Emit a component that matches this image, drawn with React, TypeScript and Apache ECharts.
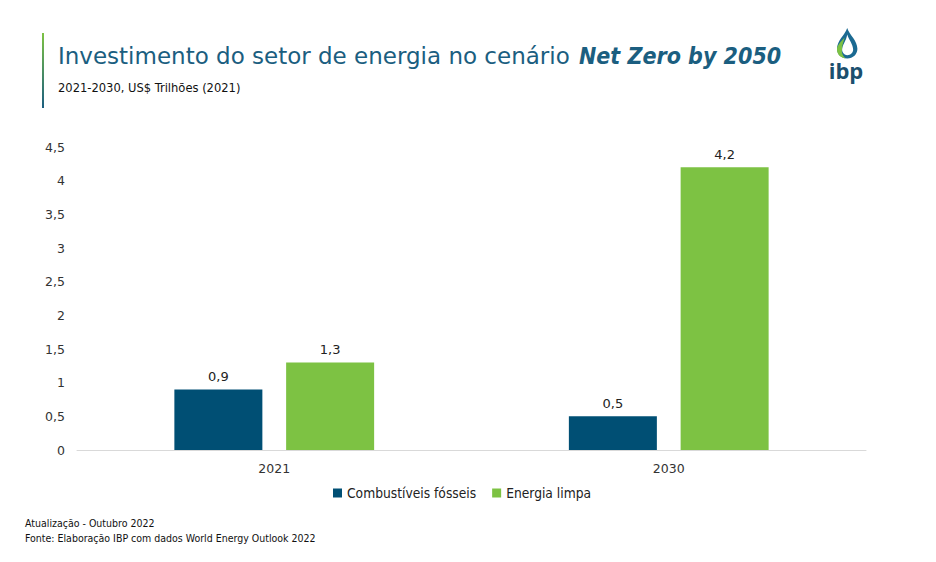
import React, { useEffect, useRef } from "react";
import * as echarts from "echarts";

const categories = ["2021", "2030"];
const fossil = [0.9, 0.5];
const clean = [1.3, 4.2];
const seriesNames = ["Combustíveis fósseis", "Energia limpa"];
const titleMain = "Investimento do setor de energia no cenário ";
const titleItalic = "Net Zero by 2050";
const subtitle = "2021-2030, US$ Trilhões (2021)";
const footer1 = "Atualização - Outubro 2022";
const footer2 = "Fonte: Elaboração IBP com dados World Energy Outlook 2022";

const FONT = "'DejaVu Sans', sans-serif";
const FONTC = "'DejaVu Sans Condensed', 'DejaVu Sans', sans-serif";
const fmt = (v: number) => String(v).replace(".", ",");

echarts.graphic.registerShape(
  "ibpDrop",
  echarts.graphic.extendPath(
    "M12 0 C15 9 24 16 24 26 C24 33 19 38 12 38 C5 38 0 33 0 26 C0 16 9 9 12 0 Z",
    {}
  )
);
echarts.graphic.registerShape(
  "ibpDropInner",
  echarts.graphic.extendPath(
    "M12 8 C14 15 19 20 19 27 C19 31 16 34 12 34 C9 34 6 31 6 27 C6 21 11 16 12 8 Z",
    {}
  )
);
echarts.graphic.registerShape(
  "ibpLeaf",
  echarts.graphic.extendPath(
    "M9 12 C4 18 0 22 0 27 C0 33 4 37 10 38 C6 34 5 30 6 26 C6 21 8 17 9 12 Z",
    {}
  )
);

export default function App() {
  const ref = useRef<HTMLDivElement>(null);
  useEffect(() => {
    if (!ref.current) return;
    const chart = echarts.init(ref.current, null, { renderer: "svg" });
    chart.setOption({
      animation: false,
      backgroundColor: "#ffffff",
      textStyle: { fontFamily: FONT },
      grid: { left: 77, right: 70, top: 147, bottom: 112, containLabel: false },
      legend: {
        data: seriesNames,
        bottom: 57,
        left: 328,
        icon: "rect",
        itemWidth: 9,
        itemHeight: 9,
        itemGap: 16,
        textStyle: { fontSize: 13.7, color: "#222", fontFamily: FONTC },
      },
      xAxis: {
        type: "category",
        data: categories,
        axisLine: { lineStyle: { color: "#d9d9d9" } },
        axisTick: { show: false },
        axisLabel: { fontSize: 12.5, color: "#333", margin: 12, fontFamily: FONT },
      },
      yAxis: {
        type: "value",
        min: 0,
        max: 4.5,
        interval: 0.5,
        splitLine: { show: false },
        axisLine: { show: false },
        axisTick: { show: false },
        axisLabel: {
          fontSize: 12.5,
          color: "#333",
          margin: 12,
          fontFamily: FONT,
          formatter: (v: number) => fmt(v),
        },
      },
      series: [
        {
          name: seriesNames[0],
          type: "bar",
          data: fossil,
          barWidth: 88,
          barGap: "27%",
          itemStyle: { color: "#004F74" },
          label: {
            show: true,
            position: "top",
            distance: 6,
            fontSize: 13,
            color: "#222",
            fontFamily: FONT,
            formatter: (p: any) => fmt(p.value),
          },
        },
        {
          name: seriesNames[1],
          type: "bar",
          data: clean,
          barWidth: 88,
          itemStyle: { color: "#7DC243" },
          label: {
            show: true,
            position: "top",
            distance: 6,
            fontSize: 13,
            color: "#222",
            fontFamily: FONT,
            formatter: (p: any) => fmt(p.value),
          },
        },
      ],
      graphic: [
        {
          type: "rect",
          shape: { x: 42, y: 33, width: 2, height: 75 },
          style: {
            fill: new echarts.graphic.LinearGradient(0, 0, 0, 1, [
              { offset: 0, color: "#7DC243" },
              { offset: 1, color: "#1B5E80" },
            ]),
          },
        },
        {
          type: "text",
          x: 58,
          y: 56,
          style: {
            text: titleMain,
            fontSize: 23,
            fill: "#1B5E80",
            fontFamily: FONT,
            textVerticalAlign: "middle",
          },
        },
        {
          type: "text",
          x: 579,
          y: 56,
          style: {
            text: titleItalic,
            fontSize: 23,
            fontStyle: "italic",
            fontWeight: "bold",
            fill: "#1B5E80",
            fontFamily: FONTC,
            textVerticalAlign: "middle",
          },
        },
        {
          type: "text",
          x: 58,
          y: 81,
          style: {
            text: subtitle,
            fontSize: 12.8,
            fill: "#111",
            fontFamily: FONTC,
          },
        },
        {
          type: "text",
          x: 25,
          y: 517,
          style: { text: footer1, fontSize: 10.5, fill: "#111", fontFamily: FONTC },
        },
        {
          type: "text",
          x: 25,
          y: 532,
          style: { text: footer2, fontSize: 10.5, fill: "#111", fontFamily: FONTC },
        },
        {
          type: "ibpDrop",
          x: 837,
          y: 28,
          scaleX: 0.85,
          scaleY: 0.8,
          style: { fill: "#1B6A92" },
        },
        {
          type: "ibpDropInner",
          x: 837,
          y: 28,
          scaleX: 0.85,
          scaleY: 0.8,
          style: { fill: "#ffffff" },
        },
        {
          type: "ibpLeaf",
          x: 837,
          y: 28,
          scaleX: 0.85,
          scaleY: 0.8,
          style: { fill: "#7DC243" },
        },
        {
          type: "text",
          x: 846,
          y: 70,
          style: {
            text: "ibp",
            fontSize: 22,
            fontWeight: "bold",
            fill: "#1B4F6E",
            fontFamily: "'Open Sans', sans-serif",
            textAlign: "center",
            textVerticalAlign: "middle",
          },
        },
      ],
    });
    return () => chart.dispose();
  }, []);
  return (
    <div
      ref={ref}
      style={{ position: "fixed", left: 0, top: 0, width: 936, height: 562 }}
    />
  );
}
